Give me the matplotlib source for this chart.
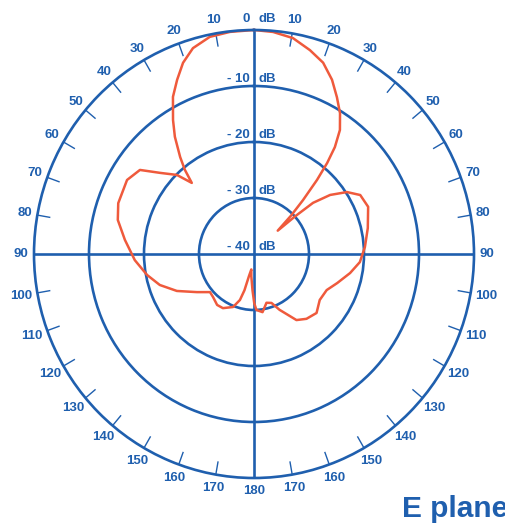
import numpy as np
import matplotlib
matplotlib.use("Agg")
import matplotlib.pyplot as plt

# measured E-plane pattern, angle clockwise from top (deg) and level (dB)
angle_deg = [0, 5, 10.4, 15.6, 20.2, 24.5, 28.3, 31.9, 35.2, 37.6, 39.3, 40.9,
             42.8, 44.5, 46, 48, 49.6, 52.7, 56.8, 61.4, 67.9, 77.4, 86.5,
             94.3, 101, 108.9, 116, 124.5, 132.8, 140.5, 146.8, 155, 160,
             165.4, 171.5, 177.5, 179.7, 182.4, 187, 190, 193, 195, 197.3,
             201.9, 210.3, 216.4, 224.1, 229.6, 236.7, 244.8, 252.1, 259.1,
             267.1, 276.1, 283.8, 290.2, 299.8, 305.9, 310.3, 315.2, 318.3,
             320.1, 322.2, 325.5, 328.4, 332.3, 335.8, 339.3, 343.2, 348.3,
             353.7, 360]
level_db = [0, -0.2, -0.8, -2.2, -3.6, -5.8, -8.2, -10.4, -12.9, -15.9, -19.0,
            -22.5, -26.9, -30.4, -34, -30, -25.9, -22.6, -19.8, -18.0, -17.6,
            -18.8, -19.8, -20.7, -22.2, -24.0, -25.3, -25.5, -24.5, -25.0,
            -25.9, -29.0, -30.7, -31.0, -29.5, -30.0, -31.2, -33.5, -36,
            -37.2, -36, -33.3, -31.4, -29.8, -28.8, -28.7, -29.3, -29.5,
            -27.6, -24.5, -22.0, -20.2, -18.3, -16.4, -14.5, -13.7, -13.4,
            -14.4, -17.6, -20.1, -23.0, -20.4, -18.1, -14.6, -11.9, -8.3,
            -5.9, -3.5, -1.6, -0.4, -0.1, 0]

ring_db = [-30, -20, -10]
ring_labels = [(-40, "- 40"), (-30, "- 30"), (-20, "- 20"), (-10, "- 10"), (0, "0")]
tick_angles = range(10, 360, 10)

BLUE = "#1f5fae"
RED = "#ef5a3c"

plt.rcParams["font.family"] = ["Liberation Sans", "DejaVu Sans"]
plt.rcParams["font.weight"] = "bold"

fig = plt.figure(figsize=(5.06, 5.23), dpi=100)
ax = fig.add_axes([34 / 506, 45 / 523, 440 / 506, 448 / 523], projection="polar")
ax.set_aspect("auto")
ax.set_theta_zero_location("N")
ax.set_theta_direction(-1)
ax.set_rlim(-40, 0)
ax.set_xticks(np.radians([0, 90, 180, 270]))
ax.set_xticklabels([])
ax.set_yticks(ring_db)
ax.set_yticklabels([])
ax.tick_params(length=0)
ax.grid(True, color=BLUE, lw=1.9)
ax.spines["polar"].set_color(BLUE)
ax.spines["polar"].set_linewidth(1.9)

# small inward ticks every 10 degrees
for a in tick_angles:
    if a % 90 == 0:
        continue
    t = np.radians(a)
    ax.plot([t, t], [0, -2.4], color=BLUE, lw=1.0, solid_capstyle="butt", clip_on=False)

# angle labels
for a in tick_angles:
    txt = str(min(a, 360 - a))
    extra = 0.6 * abs(np.sin(np.radians(a))) if len(txt) == 3 else 0
    ax.text(np.radians(a), 2.35 + extra, txt, ha="center", va="center",
            fontsize=9.5, fontweight="bold", color=BLUE, clip_on=False)

# dB labels along the 0 deg line
for db, txt in ring_labels:
    dy = 5.5 if db == 0 else 3
    ax.annotate(txt, (0, db), xytext=(-3, dy), textcoords="offset points",
                ha="right", va="baseline", fontsize=9.5, fontweight="bold",
                color=BLUE, annotation_clip=False)
    ax.annotate("dB", (0, db), xytext=(3, dy), textcoords="offset points",
                ha="left", va="baseline", fontsize=9.5, fontweight="bold",
                color=BLUE, annotation_clip=False)

ax.plot(np.radians(angle_deg), level_db, color=RED, lw=1.8, clip_on=False)

# the reference crops the last letter of this title at the right edge
fig.text(402 / 506, 6 / 523, "E plane", fontsize=21.5, fontweight="bold",
         color=BLUE, ha="left", va="baseline")

fig.savefig("out.png", dpi=100)
